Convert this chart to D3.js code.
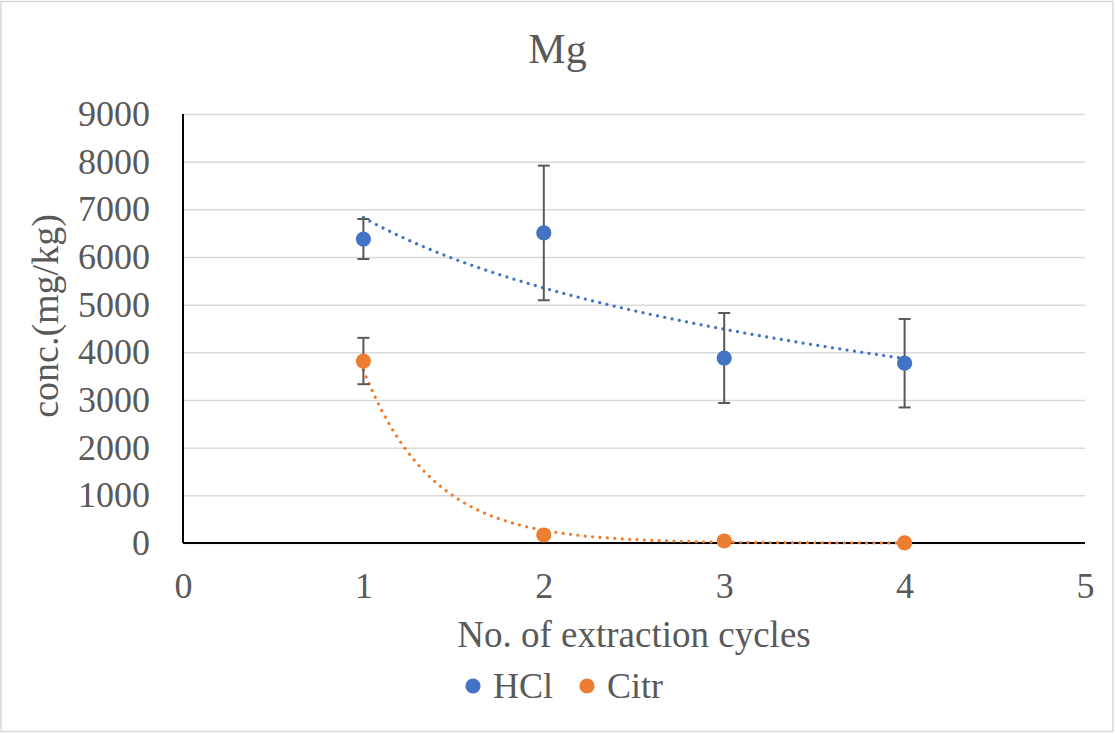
<!DOCTYPE html>
<html>
<head>
<meta charset="utf-8">
<script src="https://cdn.jsdelivr.net/npm/d3@7"></script>
<style>
  body { margin: 0; background: #fff; }
</style>
</head>
<body>
<div id="chart-area"></div>
<script>
// data
var cycles = [1, 2, 3, 4];
var hcl = [6377, 6505, 3881, 3772];
var hclErr = [420, 1412, 944, 928];
var citr = [3818, 168, 42, 1.0];
var citrErr = [486, 0, 0, 0];
var xTicks = [0, 1, 2, 3, 4, 5];
var yTicks = [0, 1000, 2000, 3000, 4000, 5000, 6000, 7000, 8000, 9000];
var seriesNames = ["HCl", "Citr"];
var seriesColors = ["#4472C4", "#ED7D31"];

var FONT = "'Liberation Serif', 'Times New Roman', serif";
var W = 1115, H = 734;
var margin = { left: 183, right: 30, top: 114, bottom: 191 };
var width = W - margin.left - margin.right,
    height = H - margin.top - margin.bottom;

var svg = d3.select("#chart-area")
    .append("svg")
        .attr("width", W)
        .attr("height", H);

// chart border
svg.append("rect")
    .attr("x", 1).attr("y", 1.5)
    .attr("width", W - 3).attr("height", H - 4)
    .attr("fill", "#fff")
    .attr("stroke", "#d9d9d9")
    .attr("stroke-width", 1.5);

var g = svg.append("g")
    .attr("transform", "translate(" + margin.left + "," + margin.top + ")");

// Scales
var x = d3.scaleLinear().domain([0, 5]).range([0, width]);
var y = d3.scaleLinear().domain([0, 9000]).range([height, 0]);

// Y axis + gridlines
var yAxisCall = d3.axisLeft(y)
    .tickValues(yTicks)
    .tickSize(-width)
    .tickPadding(33)
    .tickFormat(function(d){ return d; });
var yAxis = g.append("g").call(yAxisCall);
yAxis.select(".domain").remove();
yAxis.selectAll("line")
    .attr("stroke", "#d9d9d9")
    .attr("stroke-width", 1.5);
yAxis.selectAll("text")
    .style("font-family", FONT)
    .style("font-size", "36px")
    .attr("fill", "#595959");

// X axis
var xAxisCall = d3.axisBottom(x)
    .tickValues(xTicks)
    .tickSize(0)
    .tickPadding(29)
    .tickFormat(function(d){ return d; });
var xAxis = g.append("g")
    .attr("transform", "translate(0," + height + ")")
    .call(xAxisCall);
xAxis.select(".domain").remove();
xAxis.selectAll("text")
    .style("font-family", FONT)
    .style("font-size", "36px")
    .attr("fill", "#595959");

// axis lines
g.append("line")
    .attr("x1", 0).attr("x2", width)
    .attr("y1", height).attr("y2", height)
    .attr("stroke", "#000").attr("stroke-width", 2);
g.append("line")
    .attr("x1", 0).attr("x2", 0)
    .attr("y1", 0).attr("y2", height)
    .attr("stroke", "#000").attr("stroke-width", 2);

// trendlines: logarithmic for HCl, exponential for Citr (least squares fits)
function fitLine(xs, ys) {
    var mx = d3.mean(xs), my = d3.mean(ys);
    var sxy = d3.sum(xs, function(v, i){ return (v - mx) * (ys[i] - my); });
    var sxx = d3.sum(xs, function(v){ return (v - mx) * (v - mx); });
    var b = sxy / sxx;
    return { a: my - b * mx, b: b };
}
var logFit = fitLine(cycles.map(Math.log), hcl);
var expFit = fitLine(cycles, citr.map(Math.log));
var trendX = d3.range(1, 4.0001, 0.02);

var trends = [
    trendX.map(function(t){ return [t, logFit.a + logFit.b * Math.log(t)]; }),
    trendX.map(function(t){ return [t, Math.exp(expFit.a + expFit.b * t)]; })
];

var line = d3.line()
    .x(function(d){ return x(d[0]); })
    .y(function(d){ return y(d[1]); });

trends.forEach(function(pts, i) {
    g.append("path")
        .attr("d", line(pts))
        .attr("fill", "none")
        .attr("stroke", seriesColors[i])
        .attr("stroke-width", 3.2)
        .attr("stroke-linecap", "round")
        .attr("stroke-dasharray", "0.01 7.4");
});

// error bars and markers
var series = [
    { vals: hcl, err: hclErr },
    { vals: citr, err: citrErr }
];

series.forEach(function(s, i) {
    var eb = g.append("g");
    cycles.forEach(function(c, j) {
        if (!s.err[j]) return;
        var cx = x(c), top = y(s.vals[j] + s.err[j]), bot = y(s.vals[j] - s.err[j]);
        eb.append("line").attr("x1", cx).attr("x2", cx).attr("y1", top).attr("y2", bot);
        eb.append("line").attr("x1", cx - 6).attr("x2", cx + 6).attr("y1", top).attr("y2", top);
        eb.append("line").attr("x1", cx - 6).attr("x2", cx + 6).attr("y1", bot).attr("y2", bot);
    });
    eb.selectAll("line")
        .attr("stroke", "#595959")
        .attr("stroke-width", 2);
});

series.forEach(function(s, i) {
    g.append("g").selectAll("circle")
        .data(cycles)
        .enter().append("circle")
            .attr("cx", function(d){ return x(d); })
            .attr("cy", function(d, j){ return y(s.vals[j]); })
            .attr("r", 7.6)
            .attr("fill", seriesColors[i]);
});

// Labels
function label(sel) {
    return sel.style("font-family", FONT).attr("fill", "#595959");
}

label(svg.append("text"))
    .attr("x", W / 2)
    .attr("y", 63)
    .style("font-size", "42px")
    .attr("text-anchor", "middle")
    .text("Mg");

label(svg.append("text"))
    .attr("x", margin.left + width / 2)
    .attr("y", 647)
    .style("font-size", "37px")
    .attr("text-anchor", "middle")
    .text("No. of extraction cycles");

label(svg.append("text"))
    .attr("transform", "rotate(-90)")
    .attr("x", -316)
    .attr("y", 58)
    .style("font-size", "38px")
    .attr("text-anchor", "middle")
    .text("conc.(mg/kg)");

// Legend
var legendX = [473, 587];
seriesNames.forEach(function(name, i) {
    var row = svg.append("g")
        .attr("transform", "translate(" + legendX[i] + ",686)");
    row.append("circle")
        .attr("r", 7.6)
        .attr("fill", seriesColors[i]);
    label(row.append("text"))
        .attr("x", 20)
        .attr("y", 12)
        .style("font-size", "36px")
        .text(name);
});
</script>
</body>
</html>
